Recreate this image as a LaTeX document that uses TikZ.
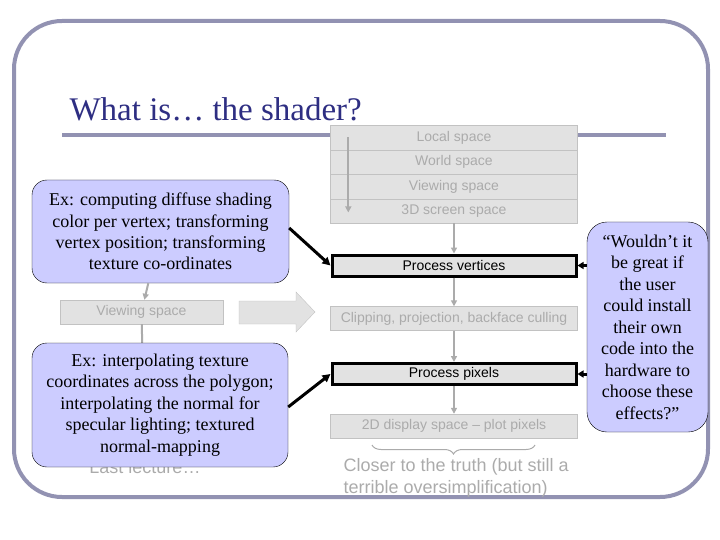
\documentclass[tikz,border=0pt]{standalone}
\usepackage{fontspec}
\setmainfont{Liberation Serif}
\setsansfont{Liberation Sans}
\usetikzlibrary{arrows.meta,positioning,calc,decorations.pathreplacing}
\definecolor{keret}{HTML}{9292B2}
\definecolor{cim}{HTML}{2E2E82}
\definecolor{lila}{HTML}{CCCCFF}
\definecolor{szurke}{HTML}{E2E2E2}
\definecolor{szel}{HTML}{C2C2C2}
\definecolor{halvany}{HTML}{ABABAB}
\tikzset{
  lep/.style={draw=szel,fill=szurke,text=halvany,minimum width=247pt,minimum height=24pt,
    inner sep=0pt,font=\sffamily\fontsize{14}{16}\selectfont},
  fo/.style={draw=black,line width=3pt,fill=szurke,text=black,minimum width=244pt,
    minimum height=21pt,inner sep=0pt,font=\sffamily\fontsize{14}{16}\selectfont},
  bub/.style={draw=black,fill=lila,rounded corners=15pt,align=center,inner sep=0pt,
    font=\fontsize{18}{21.5}\selectfont},
  szny/.style={draw=halvany,line width=2pt,-{Triangle[length=6pt,width=6pt]}},
  fny/.style={draw=black,line width=3pt,-{Triangle[length=8pt,width=8pt]}},
}
\begin{document}
\begin{tikzpicture}[x=1pt,y=-1pt]
  \useasboundingbox (0,0) rectangle (720,540);
  \draw[keret,line width=4pt,rounded corners=48pt] (14,21) rectangle (708,497);
  \draw[keret,line width=4pt] (62,135) -- (666,135);
  \node[cim,anchor=base west,font=\fontsize{33}{36}\selectfont] (title) at (66,121) {What is\dots\ the shader?};

  % the old pipeline, on the right
  \node[lep,minimum height=24.5pt] (local) at (454,137.5) {Local space};
  \node[lep,minimum height=24.5pt] (world) at (454,162) {World space};
  \node[lep,minimum height=24.5pt] (view) at (454,186.5) {Viewing space};
  \node[lep,minimum height=24.5pt] (screen) at (454,211) {3D screen space};
  \draw[szny] ($(local.north west)+(18,12)$) coordinate (s1) -- ($(screen.south west)+(18,-11)$) coordinate (s2);
  \node[fo] (pv) at (454,265.5) {Process vertices};
  \node[lep] (clip) at (454,318.5) {Clipping, projection, backface culling};
  \node[fo] (pp) at (454,374) {Process pixels};
  \node[lep] (disp) at (454,426) {2D display space -- plot pixels};
  \draw[szny] (screen) -- (pv);
  \draw[szny] (pv) -- (clip);
  \draw[szny] (clip) -- (pp);
  \draw[szny] (pp) -- (disp);
  \draw[halvany,line width=1pt,decorate,decoration={brace,mirror,amplitude=9pt}] (372,445) coordinate (b1) -- (535,445) coordinate (b2);
  \node[text=halvany,anchor=north west,align=left,font=\sffamily\fontsize{18}{22}\selectfont] (truth) at (340,455)
    {Closer to the truth (but still a\\ terrible oversimplification)};

  % last lecture, behind the bubbles
  \node[lep,minimum width=163pt] (lview) at (141.5,312) {Viewing space};
  \node[text=halvany,font=\sffamily\fontsize{18}{22}\selectfont] (last) at (145,467) {Last lecture\dots};
  \draw[halvany,line width=2pt] (lview) -- (last);
  \fill[szurke,draw=szel] (239,301) -- (296,301) -- (296,292) -- (315,312) -- (296,332) -- (296,324) -- (239,324) -- cycle;

  \node[bub,minimum width=257pt,minimum height=103pt] (vert) at (160.5,231.5)
    {Ex: computing diffuse shading\\ color per vertex; transforming\\ vertex position; transforming\\ texture co-ordinates};
  \node[bub,minimum width=256pt,minimum height=124pt] (pix) at (160,405)
    {Ex: interpolating texture\\ coordinates across the polygon;\\ interpolating the normal for\\ specular lighting; textured\\ normal-mapping};
  \node[bub,rounded corners=20pt,minimum width=121pt,minimum height=210pt] (wish) at (647.5,327)
    {“Wouldn’t it\\ be great if\\ the user\\ could install\\ their own\\ code into the\\ hardware to\\ choose these\\ effects?”};
  \draw[szny] (vert) -- (lview);
  \draw[fny] (vert.east |- 0,228) -- (pv.west);
  \draw[fny] (pix.east |- 0,407) -- (pp.west);
  \draw[fny,-{Triangle[length=6pt,width=7pt]}] (wish.west |- pv.east) -- (pv.east);
  \draw[fny,-{Triangle[length=6pt,width=7pt]}] (wish.west |- pp.east) -- (pp.east);
\end{tikzpicture}
\end{document}
